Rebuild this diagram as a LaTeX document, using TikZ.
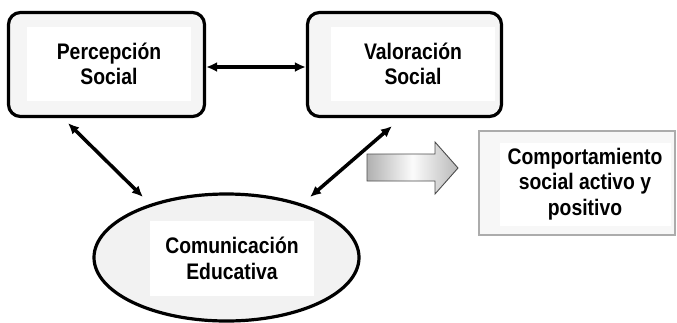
\documentclass[tikz,border=0pt]{standalone}
\usepackage{fontspec}
\setmainfont{Liberation Sans}[FakeStretch=0.86]
\usetikzlibrary{arrows.meta,shapes.geometric,calc}
\begin{document}
\begin{tikzpicture}[x=1pt,y=-1pt,
  bigbox/.style={draw=black,line width=3.2pt,rounded corners=12pt,fill=gray!8,inner sep=0pt},
  whitearea/.style={fill=white,inner sep=0pt,align=center,font=\fontsize{22.5}{25.5}\selectfont\bfseries},
  link/.style={line width=3.5pt,{Latex[length=11pt,width=10pt]}-{Latex[length=11pt,width=10pt]}},
  grayarrow/.style={draw=gray!60!black,line width=0.9pt,left color=gray!62,right color=gray!55,middle color=gray!3}]
\useasboundingbox (0,0) rectangle (677,322);
% boxes
\node[bigbox,minimum width=196pt,minimum height=104pt] (b1) at (106.5,64.5) {};
\node[whitearea,minimum width=164pt,minimum height=74pt] (t1) at (109,64) {Percepción\\Social};
\node[bigbox,minimum width=194pt,minimum height=104pt] (b2) at (404.5,64.5) {};
\node[whitearea,minimum width=164pt,minimum height=74pt] (t2) at (413,64) {Valoración\\Social};
\node[draw=gray!65,line width=1.2pt,fill=gray!6,minimum width=196pt,minimum height=104pt,inner sep=0pt] (b3) at (577,183) {};
\node[whitearea,minimum width=171pt,minimum height=83pt] (t3) at (585,184) {Comportamiento\\social activo y\\positivo};
\node[ellipse,draw=black,line width=3.2pt,fill=gray!10,minimum width=265pt,minimum height=127pt,inner sep=0pt] (ell) at (226.5,257.5) {};
\node[whitearea,minimum width=164pt,minimum height=75pt] (t4) at (232,258.5) {Comunicación\\Educativa};
% connectors
\draw[link] ([shift={(0,2.5)}]b1.east) -- ([shift={(0,2.5)}]b2.west);
\draw[link] ([shift={(-38.5,5)}]b1.south) -- ([shift={(-83.5,-60.5)}]ell.center);
\draw[link] ([shift={(-12.5,8)}]b2.south) -- ([shift={(83.5,-60.5)}]ell.center);
% big gray arrow
\path[grayarrow] (367,154) -- (435,154) -- (435,142) -- (458,168) -- (435,194) -- (435,181) -- (367,181) -- cycle;
\end{tikzpicture}
\end{document}
